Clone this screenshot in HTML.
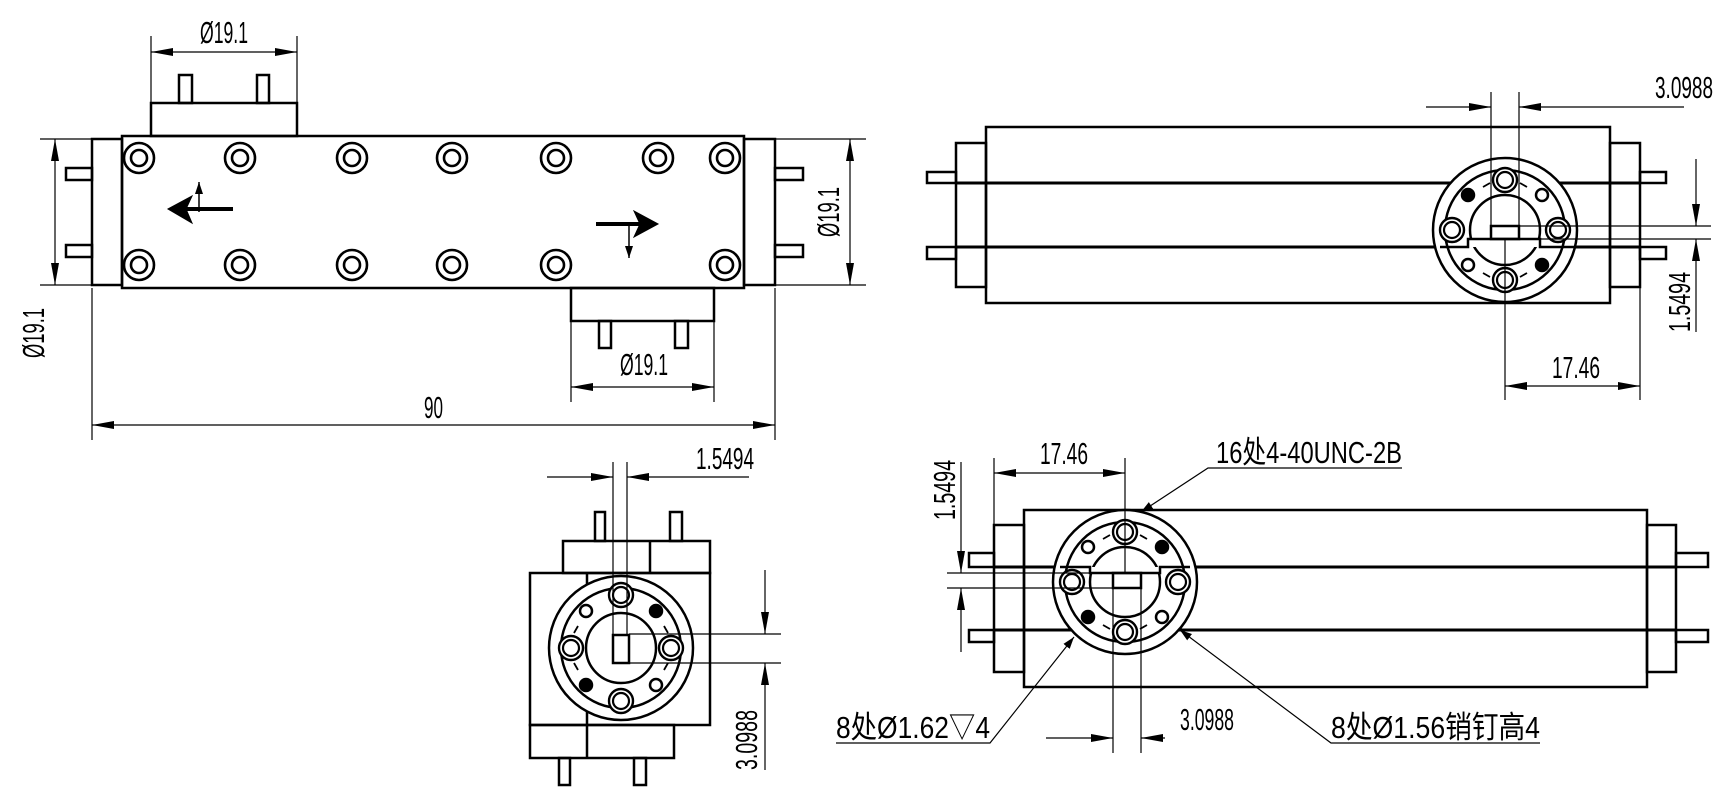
<!DOCTYPE html>
<html><head><meta charset="utf-8"><style>
html,body{margin:0;padding:0;background:#fff;}
svg{display:block;}
text{font-family:"Liberation Sans","Noto Sans CJK SC",sans-serif;fill:#000;}
</style></head><body>
<svg width="1734" height="803" viewBox="0 0 1734 803" xmlns="http://www.w3.org/2000/svg">
<defs>
<marker id="a" viewBox="0 0 22 8" refX="22" refY="4" markerWidth="22" markerHeight="8" markerUnits="userSpaceOnUse" orient="auto-start-reverse"><path d="M0,0 L22,4 L0,8 z" fill="#000"/></marker>
<marker id="b" viewBox="0 0 12 8" refX="12" refY="4" markerWidth="12" markerHeight="8" markerUnits="userSpaceOnUse" orient="auto"><path d="M0,0 L12,4 L0,8 z" fill="#000"/></marker>
<g id="hole"><circle r="15" fill="none" stroke="#000" stroke-width="2.6"/><circle r="8" fill="none" stroke="#000" stroke-width="2.6"/></g>
<g id="bolt"><circle r="12" fill="#fff" stroke="#000" stroke-width="2.4"/><circle r="8" fill="none" stroke="#000" stroke-width="2.2"/></g>
<g id="flange" fill="none" stroke="#000" stroke-width="2.5">
 <circle r="72"/><circle r="60"/><circle r="35"/>
 <use href="#bolt" x="0" y="-50"/><use href="#bolt" x="0" y="50"/><use href="#bolt" x="-53" y="0"/><use href="#bolt" x="53" y="0"/>
 <circle cx="-37" cy="-35" r="6" fill="#000"/><circle cx="37" cy="35" r="6" fill="#000"/>
 <circle cx="37" cy="-35" r="6"/><circle cx="-37" cy="35" r="6"/>
 <path d="M-22,-43 L-15,-47 M22,-43 L15,-47 M-22,43 L-15,47 M22,43 L15,47" stroke-width="1.8"/>
</g>
</defs>

<g fill="none" stroke="#000" stroke-width="2.5">
<rect x="151" y="103" width="146" height="33"/>
<rect x="179" y="75" width="13" height="28"/><rect x="257" y="75" width="12" height="28"/>
<rect x="122" y="136" width="622" height="152"/>
<rect x="92" y="139" width="30" height="146"/><rect x="744" y="139" width="31" height="146"/>
<rect x="66" y="168" width="26" height="12"/><rect x="66" y="245" width="26" height="12"/>
<rect x="775" y="168" width="28" height="12"/><rect x="775" y="245" width="28" height="12"/>
<rect x="571" y="288" width="143" height="33"/>
<rect x="599" y="321" width="12" height="27"/><rect x="675" y="321" width="13" height="27"/>
</g>
<g>
<use href="#hole" x="139" y="158"/><use href="#hole" x="240" y="158"/><use href="#hole" x="352" y="158"/><use href="#hole" x="452" y="158"/><use href="#hole" x="556" y="158"/><use href="#hole" x="658" y="158"/><use href="#hole" x="725" y="158"/>
<use href="#hole" x="139" y="265"/><use href="#hole" x="240" y="265"/><use href="#hole" x="352" y="265"/><use href="#hole" x="452" y="265"/><use href="#hole" x="556" y="265"/><use href="#hole" x="725" y="265"/>
</g>
<g stroke="#000">
<line x1="233" y1="209" x2="175" y2="209" stroke-width="4"/>
<path d="M168,209 L192,196 L186,209 L192,223 z" fill="#000"/>
<line x1="199" y1="212" x2="199" y2="182" stroke-width="1.5" marker-end="url(#b)"/>
<line x1="596" y1="224" x2="650" y2="224" stroke-width="4"/>
<path d="M658,224 L634,211 L640,224 L634,237 z" fill="#000"/>
<line x1="629" y1="222" x2="629" y2="258" stroke-width="1.5" marker-end="url(#b)"/>
</g>
<g stroke="#000" stroke-width="1.2" fill="none">
<line x1="151" y1="36" x2="151" y2="103"/><line x1="297" y1="36" x2="297" y2="103"/>
<line x1="151" y1="52" x2="297" y2="52" marker-start="url(#a)" marker-end="url(#a)"/>
<line x1="40" y1="139" x2="122" y2="139"/><line x1="40" y1="285" x2="92" y2="285"/>
<line x1="55" y1="139" x2="55" y2="285" marker-start="url(#a)" marker-end="url(#a)"/>
<line x1="744" y1="139" x2="866" y2="139"/><line x1="775" y1="285" x2="866" y2="285"/>
<line x1="850" y1="139" x2="850" y2="285" marker-start="url(#a)" marker-end="url(#a)"/>
<line x1="571" y1="321" x2="571" y2="402"/><line x1="714" y1="321" x2="714" y2="402"/>
<line x1="571" y1="387" x2="714" y2="387" marker-start="url(#a)" marker-end="url(#a)"/>
<line x1="92" y1="288" x2="92" y2="440"/><line x1="775" y1="288" x2="775" y2="440"/>
<line x1="92" y1="425" x2="775" y2="425" marker-start="url(#a)" marker-end="url(#a)"/>
</g>
<g font-size="31">
<text x="200" y="43" textLength="48" lengthAdjust="spacingAndGlyphs">Ø19.1</text>
<text transform="translate(44,358) rotate(-90)" textLength="50" lengthAdjust="spacingAndGlyphs">Ø19.1</text>
<text transform="translate(839,237) rotate(-90)" textLength="50" lengthAdjust="spacingAndGlyphs">Ø19.1</text>
<text x="620" y="375" textLength="48" lengthAdjust="spacingAndGlyphs">Ø19.1</text>
<text x="424" y="418" textLength="19" lengthAdjust="spacingAndGlyphs">90</text>
</g>

<g fill="none" stroke="#000" stroke-width="2.5">
<rect x="986" y="127" width="624" height="176"/>
<rect x="956" y="143" width="30" height="144"/><rect x="1610" y="143" width="30" height="144"/>
<rect x="927" y="172" width="29" height="11"/><rect x="927" y="247" width="29" height="12"/>
<rect x="1640" y="172" width="26" height="11"/><rect x="1640" y="247" width="26" height="12"/>
<line x1="956" y1="183" x2="1640" y2="183" stroke-width="3"/>
<line x1="956" y1="247" x2="1640" y2="247" stroke-width="3"/>
</g>
<g transform="translate(1505,230)"><circle r="72" fill="#fff"/><use href="#flange"/></g>
<g fill="none" stroke="#000" stroke-width="2.5">
<path d="M1440,247 L1468,247 L1468,239 L1540,239 L1540,247 L1575,247" fill="#fff"/>
<rect x="1491" y="226" width="28" height="13"/>
</g>
<g stroke="#000" stroke-width="1.2" fill="none">
<line x1="1491" y1="92" x2="1491" y2="239"/><line x1="1519" y1="92" x2="1519" y2="239"/>
<line x1="1505" y1="239" x2="1505" y2="400"/>
<line x1="1426" y1="107" x2="1491" y2="107" marker-end="url(#a)"/>
<line x1="1684" y1="107" x2="1519" y2="107" marker-end="url(#a)"/>
<line x1="1519" y1="226" x2="1711" y2="226"/><line x1="1540" y1="239" x2="1711" y2="239"/>
<line x1="1696" y1="159" x2="1696" y2="226" marker-end="url(#a)"/>
<line x1="1696" y1="332" x2="1696" y2="239" marker-end="url(#a)"/>
<line x1="1640" y1="287" x2="1640" y2="400"/>
<line x1="1505" y1="386" x2="1640" y2="386" marker-start="url(#a)" marker-end="url(#a)"/>
</g>
<g font-size="31">
<text x="1655" y="98" textLength="58" lengthAdjust="spacingAndGlyphs">3.0988</text>
<text transform="translate(1690,332) rotate(-90)" textLength="60" lengthAdjust="spacingAndGlyphs">1.5494</text>
<text x="1552" y="378" textLength="48" lengthAdjust="spacingAndGlyphs">17.46</text>
</g>

<g fill="none" stroke="#000" stroke-width="2.5">
<rect x="563" y="541" width="147" height="32"/>
<rect x="595" y="512" width="10" height="29"/><rect x="670" y="512" width="12" height="29"/>
<rect x="530" y="573" width="180" height="152"/>
<rect x="530" y="725" width="144" height="33"/>
<rect x="559" y="758" width="11" height="27"/><rect x="634" y="758" width="12" height="27"/>
<line x1="650" y1="541" x2="650" y2="573"/>
<line x1="587" y1="573" x2="587" y2="758"/>
</g>
<g transform="translate(621,648) rotate(90)"><circle r="72" fill="#fff"/><use href="#flange"/></g>
<g fill="none" stroke="#000" stroke-width="2.5"><rect x="613" y="635" width="16" height="28"/></g>
<g stroke="#000" stroke-width="1.2" fill="none">
<line x1="613" y1="462" x2="613" y2="635"/><line x1="627" y1="462" x2="627" y2="635"/>
<line x1="547" y1="477" x2="613" y2="477" marker-end="url(#a)"/>
<line x1="749" y1="477" x2="627" y2="477" marker-end="url(#a)"/>
<line x1="629" y1="634" x2="781" y2="634"/><line x1="621" y1="663" x2="781" y2="663"/>
<line x1="765" y1="570" x2="765" y2="634" marker-end="url(#a)"/>
<line x1="765" y1="770" x2="765" y2="663" marker-end="url(#a)"/>
</g>
<g font-size="31">
<text x="696" y="469" textLength="58" lengthAdjust="spacingAndGlyphs">1.5494</text>
<text transform="translate(757,770) rotate(-90)" textLength="60" lengthAdjust="spacingAndGlyphs">3.0988</text>
</g>

<g fill="none" stroke="#000" stroke-width="2.5">
<rect x="1024" y="510" width="623" height="177"/>
<rect x="994" y="525" width="30" height="147"/><rect x="1647" y="525" width="29" height="147"/>
<rect x="969" y="553" width="25" height="14"/><rect x="969" y="630" width="25" height="12"/>
<rect x="1676" y="553" width="32" height="14"/><rect x="1676" y="630" width="32" height="12"/>
<line x1="994" y1="567" x2="1676" y2="567" stroke-width="3"/>
<line x1="994" y1="630" x2="1676" y2="630" stroke-width="3"/>
</g>
<g transform="translate(1125,582)"><circle r="72" fill="#fff"/><use href="#flange" transform="scale(1,-1)"/></g>
<g fill="none" stroke="#000" stroke-width="2.5">
<path d="M1060,567 L1090,567 L1090,573 L1160,573 L1160,567 L1190,567" fill="#fff"/>
<rect x="1113" y="573" width="28" height="15"/>
</g>
<g stroke="#000" stroke-width="1.2" fill="none">
<line x1="994" y1="458" x2="994" y2="525"/><line x1="1125" y1="458" x2="1125" y2="573"/>
<line x1="994" y1="473" x2="1125" y2="473" marker-start="url(#a)" marker-end="url(#a)"/>
<line x1="947" y1="573" x2="1113" y2="573"/><line x1="947" y1="588" x2="1113" y2="588"/>
<line x1="961" y1="462" x2="961" y2="573" marker-end="url(#a)"/>
<line x1="961" y1="652" x2="961" y2="588" marker-end="url(#a)"/>
<line x1="1113" y1="588" x2="1113" y2="753"/><line x1="1141" y1="588" x2="1141" y2="753"/>
<line x1="1046" y1="738" x2="1113" y2="738" marker-end="url(#a)"/>
<line x1="1165" y1="738" x2="1141" y2="738" marker-end="url(#a)"/>
<polyline points="1402,468 1208,468 1141,512" marker-end="url(#b)"/>
<polyline points="836,743 990,743 1074,637" marker-end="url(#b)"/>
<polyline points="1540,743 1331,743 1180,630" marker-end="url(#b)"/>
</g>
<g font-size="31">
<text x="1040" y="464" textLength="48" lengthAdjust="spacingAndGlyphs">17.46</text>
<text transform="translate(955,520) rotate(-90)" textLength="60" lengthAdjust="spacingAndGlyphs">1.5494</text>
<text x="1180" y="730" textLength="54" lengthAdjust="spacingAndGlyphs">3.0988</text>
<text x="1216" y="463" textLength="186" lengthAdjust="spacingAndGlyphs">16处4-40UNC-2B</text>
<text x="836" y="738" textLength="154" lengthAdjust="spacingAndGlyphs">8处Ø1.62▽4</text>
<text x="1331" y="738" textLength="209" lengthAdjust="spacingAndGlyphs">8处Ø1.56销钉高4</text>
</g>
</svg>
</body></html>
